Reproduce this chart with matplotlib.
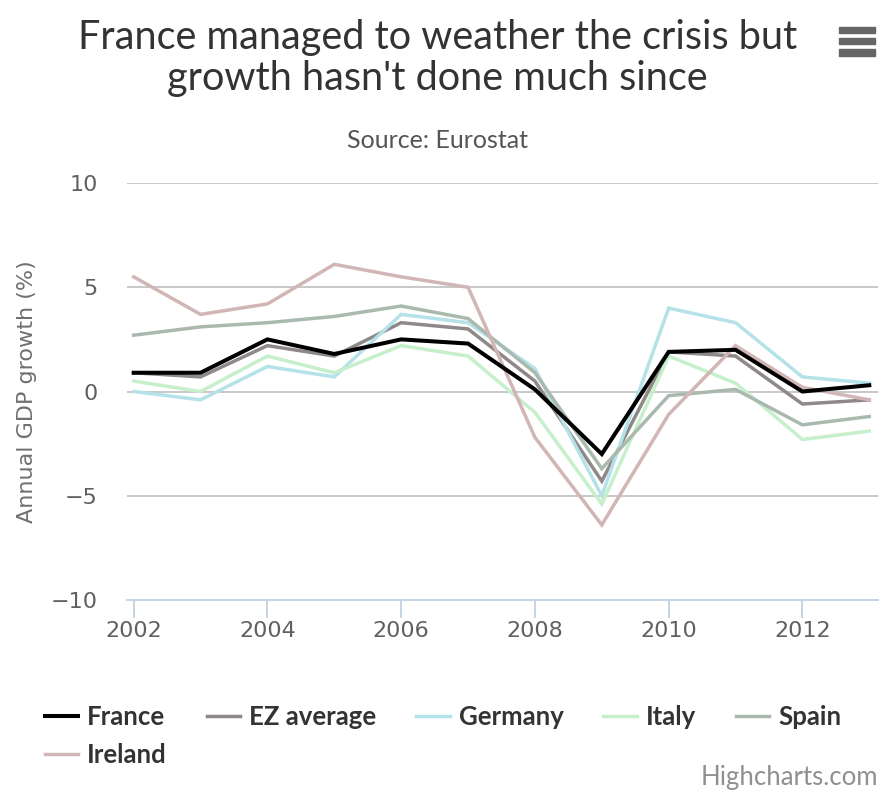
import matplotlib
matplotlib.use("Agg")
import matplotlib.pyplot as plt
from matplotlib.patches import Rectangle

# Annual GDP growth (%)
years = [2002, 2003, 2004, 2005, 2006, 2007, 2008, 2009, 2010, 2011, 2012, 2013]
france = [0.9, 0.9, 2.5, 1.8, 2.5, 2.3, 0.1, -3.0, 1.9, 2.0, 0.0, 0.3]
ez_average = [0.9, 0.7, 2.2, 1.7, 3.3, 3.0, 0.5, -4.3, 1.9, 1.7, -0.6, -0.4]
germany = [0.0, -0.4, 1.2, 0.7, 3.7, 3.3, 1.1, -5.0, 4.0, 3.3, 0.7, 0.4]
italy = [0.5, 0.0, 1.7, 0.9, 2.2, 1.7, -1.0, -5.4, 1.7, 0.4, -2.3, -1.9]
spain = [2.7, 3.1, 3.3, 3.6, 4.1, 3.5, 0.9, -3.7, -0.2, 0.1, -1.6, -1.2]
ireland = [5.5, 3.7, 4.2, 6.1, 5.5, 5.0, -2.2, -6.4, -1.1, 2.2, 0.2, -0.4]

y_ticks = [-10, -5, 0, 5, 10]
x_ticks = [2002, 2004, 2006, 2008, 2010, 2012]

narrow = ["Lato", "DejaVu Sans"]

fig = plt.figure(figsize=(8.8, 7.93), dpi=100)
ax = fig.add_axes([0.1443, 0.2434, 0.8534, 0.5258])

series = [
    ("EZ average", ez_average, "#8e8888", 2.5, 3),
    ("Germany", germany, "#b4e2e8", 2.5, 3),
    ("Italy", italy, "#c6efcb", 2.5, 3),
    ("Spain", spain, "#aab9ae", 2.5, 3),
    ("Ireland", ireland, "#d2b6b6", 2.5, 3),
    ("France", france, "#000000", 2.9, 5),
]
lines = {}
for name, vals, col, lw, z in series:
    (ln,) = ax.plot(years, vals, color=col, lw=lw, zorder=z, label=name,
                    solid_joinstyle="miter")
    lines[name] = ln

ax.set_xlim(2001.9, 2013.13)
ax.set_ylim(-10, 10)
ax.set_yticks(y_ticks)
ax.set_yticklabels(["\u221210", "\u22125", "0", "5", "10"])
ax.set_xticks(x_ticks)
for v in y_ticks[1:]:
    ax.axhline(v, color="#c4c4c4", lw=1.3, zorder=1)

for s in ["top", "right", "left"]:
    ax.spines[s].set_visible(False)
ax.spines["bottom"].set_color("#c0d0e0")
ax.spines["bottom"].set_linewidth(1.3)
ax.tick_params(axis="y", length=0, pad=21, labelsize=16, labelcolor="#606060")
ax.tick_params(axis="x", length=13, width=1.3, color="#c0d0e0", pad=2,
               labelsize=16, labelcolor="#606060")
ax.set_ylabel("Annual GDP growth (%)", fontsize=16, color="#707070", labelpad=10)

fig.text(0.497, 0.927, "France managed to weather the crisis but\ngrowth hasn't done much since",
         ha="center", va="center", fontsize=28.5, color="#333333",
         family=narrow, linespacing=1.15)
fig.text(0.497, 0.823, "Source: Eurostat", ha="center", va="center",
         fontsize=18, color="#555555", family=narrow)
fig.text(0.998, 0.004, "Highcharts.com", ha="right", va="bottom",
         fontsize=18.5, color="#909090", family=narrow)

# context menu icon
for yy in [0.962, 0.948, 0.934]:
    fig.add_artist(Rectangle((0.953, yy - 0.004), 0.041, 0.008,
                             transform=fig.transFigure, color="#666666"))

order = ["France", "Ireland", "EZ average", "Germany", "Italy", "Spain"]
leg = fig.legend([lines[n] for n in order], order, loc="upper left",
                 bbox_to_anchor=(0.051, 0.111), bbox_transform=fig.transFigure,
                 ncol=5, frameon=False, handlelength=1.3, handletextpad=0.35,
                 columnspacing=1.55, labelspacing=0.55, borderaxespad=0,
                 borderpad=0, prop={"family": narrow, "weight": "bold", "size": 18.5})
for t in leg.get_texts():
    t.set_color("#333333")

fig.savefig("out.png", dpi=100)
